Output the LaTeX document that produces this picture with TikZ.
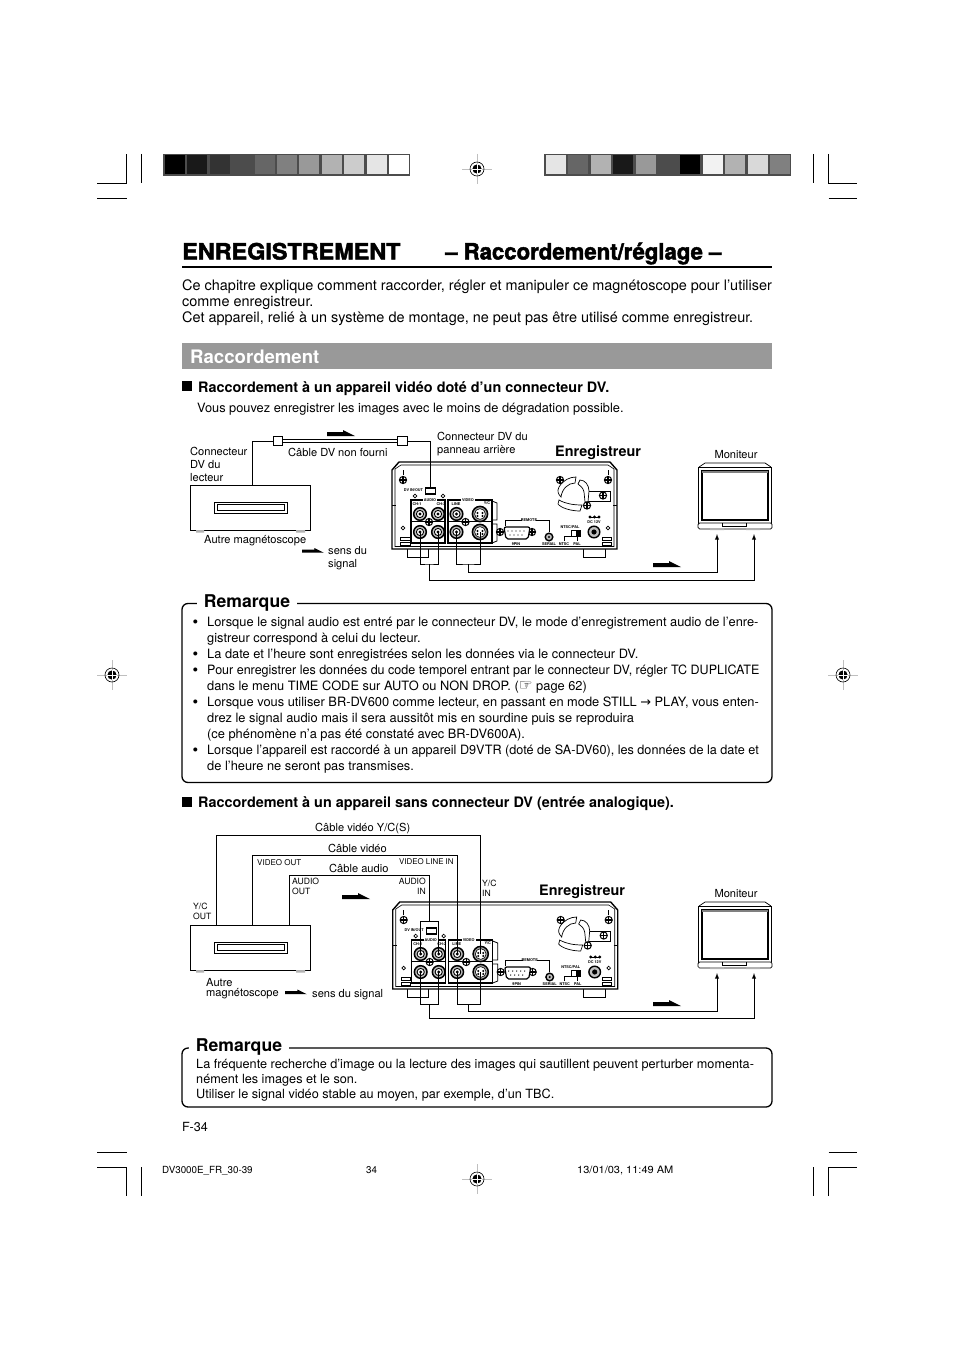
\documentclass[tikz,border=0pt]{standalone}
\usepackage{fontspec}
\setmainfont{TeX Gyre Heros}
\newfontfamily\symfont{DejaVu Sans}
\newfontfamily\titlefont[FakeBold=2]{TeX Gyre Heros Bold}
\newcommand\notebullet{\llap{\raisebox{-1.1pt}{\scalebox{1.25}{•}}\hspace{9pt}}}
\tikzset{
	txt/.style={inner sep=0pt, anchor=base west, align=left, font=\fontsize{#1}{#1}\selectfont},
	para/.style={inner sep=0pt, anchor=north west, align=left, font=\fontsize{12.84}{16}\selectfont},
	small/.style={inner sep=0pt, anchor=north west, align=left, font=\fontsize{11.1}{13}\selectfont},
	tiny/.style={inner sep=0pt, font=\bfseries\fontsize{3.8}{4}\selectfont},
	boldhead/.style={inner sep=0pt, anchor=base west, font=\bfseries\fontsize{14.4}{16}\selectfont},
	notebox/.style={draw, rounded corners=6pt, line width=1.3pt},
	notehead/.style={inner xsep=7pt, inner ysep=2pt, fill=white, font=\bfseries\fontsize{17.6}{20}\selectfont},
	wire/.style={line width=0.9pt},
	regmark/.pic={
		\draw [gray!50, line width=0.8pt] (-15,0) -- (15,0) (0,-15) -- (0,15);
		\draw [line width=0.6pt] circle (7);
		\fill circle (4.6);
		\draw [white, line width=0.8pt] (-5,0) -- (5,0) (0,-5) -- (0,5);
	},
	sigarrow/.pic={
		\fill (0,2) -- (16,2) -- (16,0) -- (28,6) -- (0,6) -- cycle;
	},
	screw/.pic={
		\draw [line width=1pt, fill=white] circle (3.6);
		\draw [line width=1.2pt] (-3.6,0) -- (3.6,0) (0,-3.6) -- (0,3.6);
	},
	vcr/.pic={
		\node (-body) [draw, line width=0.9pt, minimum width=120pt, minimum height=45pt, inner sep=0pt] at (250.5,507.5) {};
		\node (-slot) [draw, line width=0.8pt, minimum width=73pt, minimum height=11pt, inner sep=0pt] at (250.5,507.5) {};
		\draw [line width=1pt] (217,504.5) rectangle (284,510.5);
		\fill [gray!60] (196,530) rectangle (204,532.5) (296,530) rectangle (305,532.5);
	},
	monitor/.pic={
		\draw [line width=0.7pt] (699,467) -- (705,463) -- (765,463) -- (771,467);
		\draw [line width=0.7pt, fill=white] (698.5,467) rectangle (771.5,525);
		\draw [line width=1.4pt] (702,471) rectangle (768,520);
		\draw [gray, line width=1.4pt] (702,472) -- (768,472);
		\draw [line width=0.7pt, fill=white, rounded corners=1.5pt] (698,523) -- (698,529) -- (772,529) -- (772,523) -- cycle;
		\draw [line width=0.6pt] (722,523) -- (722,526) -- (746,526) -- (746,523);
		\fill [gray!60] (710,528) rectangle (724,530) (746,528) rectangle (760,530);
		\coordinate (-inL) at (717,534);
		\coordinate (-inR) at (754,534);
	},
	rearpanel/.pic={
		\draw [line width=1pt] (407,549) -- (407,557) -- (428,557) -- (428,549);
		\draw [line width=1pt] (583,549) -- (583,557) -- (605,557) -- (605,549);
		\draw [line width=1.4pt, fill=white] (392,470) -- (399,462) -- (610,462) -- (617,470) -- (617,549) -- (392,549) -- cycle;
		\draw [line width=0.6pt] (395,469) -- (395,546.5) -- (614,546.5) -- (614,469) -- (608,465) -- (401,465) -- cycle;
		\draw [line width=0.8pt] (392,505) -- (396,505) (613,505) -- (617,505);
		\pic at (403,480) {screw};
		\pic at (608,480) {screw};
		\draw [line width=0.8pt] (403,470) -- (403,475) (608,470) -- (608,475);
		% fan and bracket
		\draw [line width=0.8pt, fill=white] (587,491) -- (610,491) -- (610,501) -- (587,501);
		\pic at (603,495.5) {screw};
		\draw [line width=0.7pt, fill=white] (559,487) .. controls (563,480) and (570,477) .. (576,477) -- (575,483) .. controls (568,483) and (562,489) .. (561,497) .. controls (558,494) and (557,491) .. (559,487) -- cycle;
		\draw [line width=0.7pt, fill=white] (580,480) .. controls (585,480) and (589,485) .. (589,491) -- (588,502) -- (585,502) -- (584,492) .. controls (583,488) and (581,486) .. (578,484) -- cycle;
		\draw [line width=0.7pt, fill=white] (559,500) .. controls (566,504) and (574,505) .. (582,505) -- (580,511) .. controls (571,511) and (561,508) .. (558,504) -- cycle;
		\pic at (560,480) {screw};
		\pic at (587,505.5) {screw};
		% dv port
		\node (-dvlabel) [tiny] at (413.5,490.5) {DV IN/OUT};
		\node (-dvport) [draw, line width=1.2pt, minimum width=10pt, minimum height=6pt, inner sep=0pt] at (430.5,491) {};
		\draw [line width=0.7pt] (415,496) circle (1.8) (443,496) circle (1.8) (403,528) circle (1.8) (608,528) circle (1.8);
		% jack blocks
		\draw [line width=1.4pt, fill=white] (411,500) rectangle (445,543);
		\draw [line width=1.4pt, fill=white] (448,500) rectangle (492,543);
		\draw [line width=1.4pt] (411,521.5) -- (445,521.5) (448,521.5) -- (492,521.5);
		\draw [line width=0.8pt] (492,501) -- (497,503) -- (497,520) -- (492,520) (492,524) -- (497,524) -- (497,541) -- (492,543);
		\node (-audio) [tiny, fill=white, inner xsep=1pt] at (430,500.5) {AUDIO};
		\node (-video) [tiny, fill=white, inner xsep=1pt] at (468,500.5) {VIDEO};
		\node (-chA) [tiny] at (417,504.5) {CH-1};
		\node (-chB) [tiny] at (441,504.5) {CH-2};
		\node (-line) [tiny] at (456,504) {LINE};
		\node (-yc) [tiny] at (487,503.5) {Y/C};
		\foreach \x/\y/\n in {420/514/rcaA, 438/514/rcaB, 456.5/514/rcaC, 420/532/rcaD, 438/532/rcaE, 456.5/532/rcaF} {
			\coordinate (-\n) at (\x,\y);
			\draw [line width=1.5pt, fill=gray!50] (\x,\y) circle (6.3);
			\draw [line width=0.9pt, fill=white] (\x,\y) circle (3.6);
			\fill (\x,\y) circle (1.6);
		}
		\foreach \y/\n in {514/svidA, 532/svidB} {
			\coordinate (-\n) at (480,\y);
			\draw [line width=1.5pt, fill=gray!70] (480,\y) circle (7.6);
			\draw [line width=0.6pt, fill=white] (480,\y) circle (5.4);
			\fill (477.5,\y-1) circle (1.1) (482.5,\y-1) circle (1.1) (477.5,\y+2) circle (1.1) (482.5,\y+2) circle (1.1);
		}
		\pic at (429,522) {screw};
		\pic at (465.5,522) {screw};
		\foreach \y in {537, 542} {
			\draw [line width=0.8pt] (400.5,\y) rectangle (410,\y+3.5) (602,\y) rectangle (611,\y+3.5);
		}
		% remote and switch
		\pic at (500,532) {screw};
		\pic at (532,532) {screw};
		\draw [line width=1.2pt, fill=white, rounded corners=2pt] (504,527) -- (530,527) -- (528,539) -- (506,539) -- cycle;
		\foreach \x in {508,512,...,524} { \fill (\x,531) circle (0.7); }
		\foreach \x in {510,514,...,522} { \fill (\x,535) circle (0.7); }
		\node (-remote) [tiny] at (529,520.5) {REMOTE};
		\draw [line width=0.6pt] (505,526) -- (505,520.5) -- (522,520.5) (536,520.5) -- (549,520.5) -- (549,532);
		\node (-ninepin) [tiny] at (516,544) {9PIN};
		\draw [line width=1.4pt, fill=gray!50] (549,537) circle (3.8);
		\fill (549,537) circle (1.2);
		\node (-serial) [tiny] at (549,544) {SERIAL};
		\node (-ntscpal) [tiny] at (570,527) {NTSC/PAL};
		\draw [line width=0.9pt, fill=white] (571,530) rectangle (580,536);
		\fill (575.5,530) rectangle (580,536);
		\draw [line width=0.6pt] (564,541) -- (564,536) -- (571,536) (577,541) -- (577,536);
		\node (-ntsc) [tiny] at (564,544) {NTSC};
		\node (-pal) [tiny] at (577,544) {PAL};
		\fill (590,517) circle (1.6) (594.5,517) circle (1.6) (599,517) circle (1.6);
		\draw [line width=0.6pt] (590,517) -- (599,517);
		\node (-dc) [tiny] at (594,522.5) {DC 12V};
		\draw [line width=1.4pt, fill=gray!50] (594,532) circle (5.8);
		\fill (594,532) circle (2.6);
	}
}
\begin{document}
\begin{tikzpicture}[x=1pt, y=-1pt]
	\fill [white] (0,0) rectangle (954,1351);
	\useasboundingbox (0,0) rectangle (954,1351);
	% crop marks
	\draw [line width=0.7pt] (97,183) -- (126.5,183) -- (126.5,154) (141.5,154) -- (141.5,183) (97,198) -- (126.5,198);
	\draw [line width=0.7pt] (813.5,154) -- (813.5,183) (828.5,154) -- (828.5,183) -- (857,183) (828.5,198) -- (857,198);
	\draw [line width=0.7pt] (97,1152) -- (126.5,1152) (97,1167) -- (126.5,1167) -- (126.5,1196) (141.5,1167) -- (141.5,1196);
	\draw [line width=0.7pt] (828.5,1152) -- (857,1152) (813.5,1167) -- (813.5,1196) (828.5,1196) -- (828.5,1167) -- (857,1167);
	\pic at (477,169) {regmark};
	\pic at (477,1179) {regmark};
	\pic at (112,675) {regmark};
	\pic at (843,675) {regmark};
	% colour bars
	\fill [black!70] (163,154) rectangle (410,176);
	\foreach \ink [count=\i from 0] in {100,90,80,70,60,50,40,30,20,10,0} {
		\fill [black!\ink] (165+\i*22.4,155.5) rectangle (185+\i*22.4,174.5);
	}
	\fill [black!70] (544,154) rectangle (791,176);
	\foreach \ink [count=\i from 0] in {10,60,30,90,40,70,100,5,30,15,50} {
		\fill [black!\ink] (546+\i*22.4,155.5) rectangle (566+\i*22.4,174.5);
	}
	% heading
	\node (title) [txt=22.5, font=\titlefont\fontsize{22.5}{26}\selectfont] at (182,259.5) {\scalebox{1.04}[1]{ENREGISTREMENT}};
	\node (subtitle) [txt=22.5, font=\titlefont\fontsize{22.5}{26}\selectfont] at (445,259.5) {\scalebox{0.985}[1]{– Raccordement/réglage –}};
	\draw [line width=1.6pt] (182,267) -- (772,267);
	\node (intro) [para, font=\fontsize{14.45}{16}\selectfont] at (182,280) {Ce chapitre explique comment raccorder, régler et manipuler ce magnétoscope pour l’utiliser\\comme enregistreur.\\Cet appareil, relié à un système de montage, ne peut pas être utilisé comme enregistreur.};
	\node (band) [fill=black!40, minimum width=590pt, minimum height=26pt, inner sep=0pt] at (477,356) {};
	\node (bandtext) [txt=19, text=white, font=\bfseries\fontsize{18.6}{20}\selectfont] at (190,363) {Raccordement};
	% first hookup
	\node (squareA) [fill, minimum size=10pt, inner sep=0pt] at (187,386) {};
	\node (headA) [boldhead] at (198,392) {Raccordement à un appareil vidéo doté d’un connecteur DV.};
	\node (leadA) [txt=12.8] at (197,412.5) {Vous pouvez enregistrer les images avec le moins de dégradation possible.};
	\pic (vcrA) at (0,0) {vcr};
	\pic (recA) at (0,0) {rearpanel};
	\pic (monA) at (0,0) {monitor};
	\node (plugL) [draw, fill=white, line width=0.9pt, minimum width=9.5pt, minimum height=8.5pt, inner sep=0pt] at (278,441) {};
	\node (plugR) [draw, fill=white, line width=0.9pt, minimum width=9.5pt, minimum height=8.5pt, inner sep=0pt] at (402.5,441) {};
	\coordinate (vcrAout) at (252,485);
	\coordinate (audioTeeA) at (429,564);
	\coordinate (audioRunA) at (429,580);
	\coordinate (videoTeeA) at (468.5,564);
	\coordinate (videoRunA) at (468.5,572);
	\draw [wire] (vcrAout) |- (plugL);
	\draw [line width=0.8pt, double, double distance=1.6pt] (plugL) -- (plugR);
	\draw [wire] (plugR) -| (recA-dvport);
	\draw [wire] (recA-rcaD) |- (audioTeeA) -| (recA-rcaE);
	\draw [wire] (recA-rcaF) |- (videoTeeA) -| (recA-svidB);
	\draw [wire, -latex] (audioTeeA) -- (audioRunA) -| (monA-inR);
	\draw [wire, -latex] (videoTeeA) -- (videoRunA) -| (monA-inL);
	\pic at (327,430) {sigarrow};
	\pic at (653,561) {sigarrow};
	\pic [scale=0.78] at (302,548) {sigarrow};
	\node (dvOut) [small] at (190,447) {Connecteur\\DV du\\lecteur};
	\node (cableDv) [small] at (288,448) {Câble DV non fourni};
	\node (dvRear) [small] at (437,432) {Connecteur DV du\\panneau arrière};
	\node (recLabelA) [boldhead] at (555,456) {Enregistreur};
	\node (monLabelA) [small, anchor=center] at (736,454.5) {Moniteur};
	\node (vcrLabelA) [small] at (204,535) {Autre magnétoscope};
	\node (flowA) [small] at (328,546) {sens du\\signal};
	% first note
	\node (noteA) [notebox, minimum width=590pt, minimum height=179pt, inner sep=0pt] at (477,693) {};
	\node (noteAhead) [notehead] at (247,603) {Remarque};
	\node (noteAtext) [para] at (207,616.5) {\notebullet Lorsque le signal audio est entré par le connecteur DV, le mode d’enregistrement audio de l’enre-\\gistreur correspond à celui du lecteur.\\\notebullet La date et l’heure sont enregistrées selon les données via le connecteur DV.\\\notebullet\scalebox{0.975}[1]{Pour enregistrer les données du code temporel entrant par le connecteur DV, régler TC DUPLICATE}\\dans le menu TIME CODE sur AUTO ou NON DROP. ({\symfont\scalebox{1.2}{☞}} page 62)\\\notebullet Lorsque vous utiliser BR-DV600 comme lecteur, en passant en mode STILL {\symfont →} PLAY, vous enten-\\drez le signal audio mais il sera aussitôt mis en sourdine puis se reproduira\\(ce phénomène n’a pas été constaté avec BR-DV600A).\\\notebullet\scalebox{0.985}[1]{Lorsque l’appareil est raccordé à un appareil D9VTR (doté de SA-DV60), les données de la date et}\\de l’heure ne seront pas transmises.};
	% second hookup
	\node (squareB) [fill, minimum size=10pt, inner sep=0pt] at (187,802) {};
	\node (headB) [boldhead] at (198,807) {Raccordement à un appareil sans connecteur DV (entrée analogique).};
	\pic (vcrB) at (0,440) {vcr};
	\pic (recB) at (0.7,440) {rearpanel};
	\pic (monB) at (0,439) {monitor};
	\coordinate (ycOut) at (216,925);
	\coordinate (videoOut) at (252.5,925);
	\coordinate (audioOut) at (289.5,925);
	\coordinate (ycTop) at (216,835.5);
	\coordinate (videoTop) at (252.5,855.5);
	\coordinate (audioTop) at (289.5,875);
	\coordinate (audioDrop) at (429.5,921);
	\coordinate (audioTeeB) at (429.5,1004);
	\coordinate (audioRunB) at (429.5,1018);
	\coordinate (videoTeeB) at (468.5,1004);
	\coordinate (videoRunB) at (468.5,1011.5);
	\draw [wire] (ycOut) -- (ycTop) -| (recB-svidA);
	\draw [wire] (videoOut) -- (videoTop) -| (recB-rcaC);
	\draw [wire] (audioOut) -- (audioTop) -| (audioDrop);
	\draw [wire] (recB-rcaA) |- (audioDrop) -| (recB-rcaB);
	\draw [wire] (recB-rcaD) |- (audioTeeB) -| (recB-rcaE);
	\draw [wire] (recB-rcaF) |- (videoTeeB) -| (recB-svidB);
	\draw [wire, -latex] (audioTeeB) -- (audioRunB) -| (monB-inR);
	\draw [wire, -latex] (videoTeeB) -- (videoRunB) -| (monB-inL);
	\pic at (342,893) {sigarrow};
	\pic at (653,1000) {sigarrow};
	\pic [scale=0.78] at (285,989.5) {sigarrow};
	\node (ycCable) [small] at (315,823) {Câble vidéo Y/C(S)};
	\node (videoCable) [small] at (328,844) {Câble vidéo};
	\node (audioCable) [small] at (329,864) {Câble audio};
	\node (videoOutLabel) [small, font=\fontsize{8}{10}\selectfont] at (257,859.5) {VIDEO OUT};
	\node (videoInLabel) [small, font=\fontsize{7.9}{10}\selectfont] at (399,858.5) {VIDEO LINE IN};
	\node (audioOutLabel) [small, font=\fontsize{8.6}{9.5}\selectfont] at (292,878) {AUDIO\\OUT};
	\node (audioInLabel) [small, font=\fontsize{8.6}{9.5}\selectfont, anchor=north east, align=right] at (426,878) {AUDIO\\IN};
	\node (ycInLabel) [small, font=\fontsize{8.6}{9.5}\selectfont] at (482,880) {Y/C\\IN};
	\node (ycOutLabel) [small, font=\fontsize{8.6}{9.5}\selectfont] at (193,903) {Y/C\\OUT};
	\node (recLabelB) [boldhead] at (539,895) {Enregistreur};
	\node (monLabelB) [small, anchor=center] at (736,893.5) {Moniteur};
	\node (vcrLabelB) [small, font=\fontsize{11.1}{10}\selectfont] at (206,978) {Autre\\magnétoscope};
	\node (flowB) [small] at (312,989) {sens du signal};
	% second note
	\node (noteB) [notebox, minimum width=590pt, minimum height=59pt, inner sep=0pt] at (477,1077.5) {};
	\node (noteBhead) [notehead] at (239,1047) {Remarque};
	\node (noteBtext) [para, font=\fontsize{12.68}{14.6}\selectfont] at (196,1059.5) {La fréquente recherche d’image ou la lecture des images qui sautillent peuvent perturber momenta-\\nément les images et le son.\\Utiliser le signal vidéo stable au moyen, par exemple, d’un TBC.};
	% footer
	\node (pageNo) [txt=12.6] at (182,1131) {F-34};
	\node (footFile) [txt=9.8] at (162,1173.5) {DV3000E\_FR\_30-39};
	\node (footPage) [txt=9.8] at (366,1173.5) {34};
	\node (footDate) [txt=10.2, font=\fontsize{10.2}{12}\selectfont] at (577,1173.5) {\scalebox{1.08}[1]{13/01/03, 11:49 AM}};
\end{tikzpicture}
\end{document}
